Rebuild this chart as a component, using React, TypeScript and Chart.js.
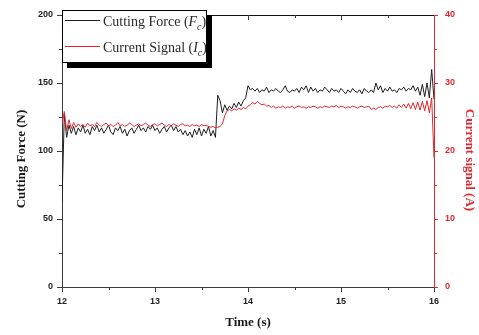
import React, { useEffect, useRef } from "react";
import { Chart, registerables } from "chart.js";

Chart.register(...registerables);

// ---- data ----
const TIME = [
  12, 12.025, 12.05, 12.075, 12.1, 12.125, 12.15, 12.175,
  12.2, 12.225, 12.25, 12.275, 12.3, 12.325, 12.35, 12.375,
  12.4, 12.425, 12.45, 12.475, 12.5, 12.525, 12.55, 12.575,
  12.6, 12.625, 12.65, 12.675, 12.7, 12.725, 12.75, 12.775,
  12.8, 12.825, 12.85, 12.875, 12.9, 12.925, 12.95, 12.975,
  13, 13.025, 13.05, 13.075, 13.1, 13.125, 13.15, 13.175,
  13.2, 13.225, 13.25, 13.275, 13.3, 13.325, 13.35, 13.375,
  13.4, 13.425, 13.45, 13.475, 13.5, 13.525, 13.55, 13.575,
  13.6, 13.625, 13.65, 13.675, 13.7, 13.725, 13.75, 13.775,
  13.8, 13.825, 13.85, 13.875, 13.9, 13.925, 13.95, 13.975,
  14, 14.025, 14.05, 14.075, 14.1, 14.125, 14.15, 14.175,
  14.2, 14.225, 14.25, 14.275, 14.3, 14.325, 14.35, 14.375,
  14.4, 14.425, 14.45, 14.475, 14.5, 14.525, 14.55, 14.575,
  14.6, 14.625, 14.65, 14.675, 14.7, 14.725, 14.75, 14.775,
  14.8, 14.825, 14.85, 14.875, 14.9, 14.925, 14.95, 14.975,
  15, 15.025, 15.05, 15.075, 15.1, 15.125, 15.15, 15.175,
  15.2, 15.225, 15.25, 15.275, 15.3, 15.325, 15.35, 15.375,
  15.4, 15.425, 15.45, 15.475, 15.5, 15.525, 15.55, 15.575,
  15.6, 15.625, 15.65, 15.675, 15.7, 15.725, 15.75, 15.775,
  15.8, 15.825, 15.85, 15.875, 15.9, 15.925, 15.95, 15.975,
  16,
];

// Cutting force (N), left axis
const FORCE = [
  62, 127, 110, 119, 113, 118, 112, 117,
  114, 119, 113, 116, 112, 118, 115, 119,
  114, 117, 113, 116, 119, 114, 112, 117,
  115, 118, 113, 116, 111, 115, 117, 113,
  116, 119, 115, 117, 114, 118, 116, 119,
  115, 117, 113, 116, 118, 114, 117, 119,
  115, 118, 114, 116, 112, 115, 111, 114,
  110, 116, 112, 117, 111, 116, 113, 118,
  111, 115, 110, 141, 137, 128, 134, 130,
  133, 131, 135, 132, 136, 133, 137, 139,
  148, 145, 146, 144, 146, 143, 145, 144,
  147, 143, 145, 144, 146, 144, 143, 145,
  148, 144, 143, 145, 144, 146, 143, 147,
  145, 148, 143, 147, 144, 146, 143, 145,
  144, 147, 145, 143, 146, 144, 145, 143,
  146, 144, 142, 145, 143, 146, 144, 143,
  145, 142, 146, 144, 143, 145, 143, 150,
  145, 148, 143, 146, 144, 147, 144, 145,
  143, 146, 145, 147, 144, 146, 145, 148,
  144, 147, 141, 149, 140, 150, 139, 160,
  138,
];

// Current signal (A), right axis
const CURRENT = [
  24.0, 25.8, 23.0, 24.6, 23.3, 24.2, 23.5, 24.0,
  23.6, 23.9, 23.5, 24.1, 23.7, 23.9, 23.6, 24.2,
  23.8, 23.6, 23.9, 24.1, 23.7, 23.9, 23.6, 23.8,
  24.2, 23.7, 23.9, 23.6, 23.8, 24.1, 23.9, 23.6,
  23.8, 24.0, 23.7, 23.9, 24.1, 23.8, 23.6, 23.9,
  24.0, 23.7, 23.9, 24.1, 23.8, 23.6, 23.9, 23.7,
  24.0, 23.8, 23.6, 23.9, 24.0, 23.7, 23.8, 23.6,
  23.9, 23.7, 23.8, 23.6, 23.9, 23.7, 23.8, 23.6,
  23.5, 23.6, 23.4, 23.5, 23.6, 24.0, 25.2, 25.9,
  26.1, 25.9, 26.2, 26.0, 26.3, 26.1, 26.4, 26.2,
  26.6, 26.8, 27.1, 26.9, 27.3, 27.0, 26.8, 26.9,
  26.6, 26.7, 26.4, 26.6, 26.3, 26.5, 26.4, 26.6,
  26.3, 26.5, 26.4, 26.6, 26.3, 26.5, 26.6, 26.4,
  26.5, 26.3, 26.5, 26.4, 26.6, 26.5, 26.3, 26.5,
  26.4, 26.6, 26.5, 26.4, 26.6, 26.5, 26.7, 26.4,
  26.6, 26.5, 26.3, 26.5, 26.4, 26.6, 26.5, 26.3,
  26.5, 26.6, 26.4, 26.5, 26.6, 26.1, 26.3, 26.1,
  26.4, 26.5, 26.3, 26.6, 26.5, 26.7, 26.4, 26.6,
  26.3, 26.8, 26.4, 26.9, 26.3, 27.0, 26.2, 27.1,
  26.1, 27.2, 26.0, 27.3, 25.9, 27.4, 25.6, 27.8,
  19.0,
];

const X_TICKS = [12, 13, 14, 15, 16];
const X_MINOR = [12.5, 13.5, 14.5, 15.5];
const FORCE_TICKS = [0, 50, 100, 150, 200];
const FORCE_MINOR = [25, 75, 125, 175];
const CURRENT_TICKS = [0, 10, 20, 30, 40];
const CURRENT_MINOR = [5, 15, 25, 35];

const X_TITLE = "Time (s)";
const FORCE_TITLE = "Cutting Force (N)";
const CURRENT_TITLE = "Current signal (A)";
const LEGEND_NAMES = ["Cutting Force", "Current Signal"];
const LEGEND_SYMBOLS = ["F", "I"];

const SERIF = "'Liberation Serif', 'Times New Roman', serif";
const SANS = "'Liberation Sans', Arial, sans-serif";
const BLACK = "#1e1e1e";
const RED = "#e0282e";
const AXIS = "#3a3a3a";

const decor = {
  id: "decor",
  afterDraw(chart: any) {
    const { ctx, chartArea } = chart;
    const xs = chart.scales.x;
    const ys = chart.scales.y;
    const y1 = chart.scales.y1;
    const { left, right, top, bottom } = chartArea;
    ctx.save();
    ctx.lineWidth = 1;

    // top frame line
    ctx.strokeStyle = "#111";
    ctx.beginPath();
    ctx.moveTo(left, top + 0.5);
    ctx.lineTo(right, top + 0.5);
    ctx.stroke();

    // top axis inner ticks
    ctx.strokeStyle = AXIS;
    ctx.beginPath();
    X_TICKS.slice(1, -1).forEach((v) => {
      const px = Math.round(xs.getPixelForValue(v)) + 0.5;
      ctx.moveTo(px, top);
      ctx.lineTo(px, top + 5);
    });
    X_MINOR.forEach((v) => {
      const px = Math.round(xs.getPixelForValue(v)) + 0.5;
      ctx.moveTo(px, top);
      ctx.lineTo(px, top + 3);
      ctx.moveTo(px, bottom);
      ctx.lineTo(px, bottom + 3);
    });
    FORCE_MINOR.forEach((v) => {
      const py = Math.round(ys.getPixelForValue(v)) + 0.5;
      ctx.moveTo(left, py);
      ctx.lineTo(left - 3, py);
    });
    ctx.stroke();

    ctx.strokeStyle = RED;
    ctx.beginPath();
    CURRENT_MINOR.forEach((v) => {
      const py = Math.round(y1.getPixelForValue(v)) + 0.5;
      ctx.moveTo(right, py);
      ctx.lineTo(right + 3, py);
    });
    ctx.stroke();

    // axis titles
    ctx.font = `bold 13px ${SERIF}`;
    ctx.textAlign = "center";
    ctx.textBaseline = "alphabetic";
    ctx.fillStyle = "#1a1a1a";
    ctx.fillText(X_TITLE, (left + right) / 2, 326);

    ctx.save();
    ctx.translate(25, 159);
    ctx.rotate(-Math.PI / 2);
    ctx.fillText(FORCE_TITLE, 0, 0);
    ctx.restore();

    ctx.save();
    ctx.fillStyle = RED;
    ctx.translate(466, 160);
    ctx.rotate(Math.PI / 2);
    ctx.fillText(CURRENT_TITLE, 0, 0);
    ctx.restore();

    // legend box with shadow
    const bx = 62, by = 10, bw = 145, bh = 53, sh = 5;
    ctx.fillStyle = "#000";
    ctx.fillRect(bx + sh, by + sh, bw, bh);
    ctx.fillStyle = "#fff";
    ctx.fillRect(bx, by, bw, bh);
    ctx.strokeStyle = "#000";
    ctx.strokeRect(bx + 0.5, by + 0.5, bw - 1, bh - 1);

    const colors = [BLACK, RED];
    const rowY = [20.5, 46.5];
    ctx.textAlign = "left";
    ctx.textBaseline = "alphabetic";
    LEGEND_NAMES.forEach((name, i) => {
      ctx.strokeStyle = colors[i];
      ctx.beginPath();
      ctx.moveTo(65, rowY[i]);
      ctx.lineTo(100, rowY[i]);
      ctx.stroke();
      let x = 103;
      const y = rowY[i] + 5.5;
      ctx.fillStyle = "#2a2a2a";
      ctx.font = `14px ${SERIF}`;
      const a = name + " (";
      ctx.fillText(a, x, y);
      x += ctx.measureText(a).width;
      ctx.font = `italic 14px ${SERIF}`;
      ctx.fillText(LEGEND_SYMBOLS[i], x, y);
      x += ctx.measureText(LEGEND_SYMBOLS[i]).width;
      ctx.font = `italic 10px ${SERIF}`;
      ctx.fillText("c", x, y + 4);
      x += ctx.measureText("c").width;
      ctx.font = `14px ${SERIF}`;
      ctx.fillText(")", x, y);
    });

    ctx.restore();
  },
};

export default function App() {
  const ref = useRef<HTMLCanvasElement | null>(null);

  useEffect(() => {
    document.body.style.margin = "0";
    const canvas = ref.current;
    if (!canvas) return;
    const tickFont = { family: SANS, size: 9, weight: "bold" as const };
    const chart = new Chart(canvas, {
      type: "line",
      data: {
        datasets: [
          {
            label: LEGEND_NAMES[0],
            data: TIME.map((t, i) => ({ x: t, y: FORCE[i] })),
            borderColor: BLACK,
            borderWidth: 1,
            pointRadius: 0,
            tension: 0,
            yAxisID: "y",
            order: 1,
          },
          {
            label: LEGEND_NAMES[1],
            data: TIME.map((t, i) => ({ x: t, y: CURRENT[i] })),
            borderColor: RED,
            borderWidth: 1,
            pointRadius: 0,
            tension: 0,
            yAxisID: "y1",
            order: 0,
          },
        ],
      },
      options: {
        responsive: false,
        animation: false,
        events: [],
        layout: { padding: { top: 15, left: 0, right: 0, bottom: 0 } },
        plugins: { legend: { display: false }, tooltip: { enabled: false } },
        scales: {
          x: {
            type: "linear",
            min: 12,
            max: 16,
            afterBuildTicks: (s: any) => {
              s.ticks = X_TICKS.map((v) => ({ value: v }));
            },
            ticks: { font: tickFont, color: "#222", padding: 4, maxRotation: 0 },
            grid: { drawOnChartArea: false, tickLength: 5, color: AXIS },
            border: { color: AXIS, width: 1 },
            afterFit: (s: any) => {
              s.height = 48;
            },
          },
          y: {
            position: "left",
            min: 0,
            max: 200,
            afterBuildTicks: (s: any) => {
              s.ticks = FORCE_TICKS.map((v) => ({ value: v }));
            },
            ticks: { font: tickFont, color: "#222", padding: 4 },
            grid: { drawOnChartArea: false, tickLength: 5, color: AXIS },
            border: { color: AXIS, width: 1 },
            afterFit: (s: any) => {
              s.width = 62;
            },
          },
          y1: {
            position: "right",
            min: 0,
            max: 40,
            afterBuildTicks: (s: any) => {
              s.ticks = CURRENT_TICKS.map((v) => ({ value: v }));
            },
            ticks: { font: tickFont, color: RED, padding: 7 },
            grid: { drawOnChartArea: false, tickLength: 4, color: RED },
            border: { color: RED, width: 1 },
            afterFit: (s: any) => {
              s.width = 45;
            },
          },
        },
      },
      plugins: [decor],
    });
    return () => chart.destroy();
  }, []);

  return (
    <div style={{ position: "absolute", left: 0, top: 0, width: 479, height: 335 }}>
      <canvas ref={ref} width={479} height={335} style={{ display: "block" }} />
    </div>
  );
}
